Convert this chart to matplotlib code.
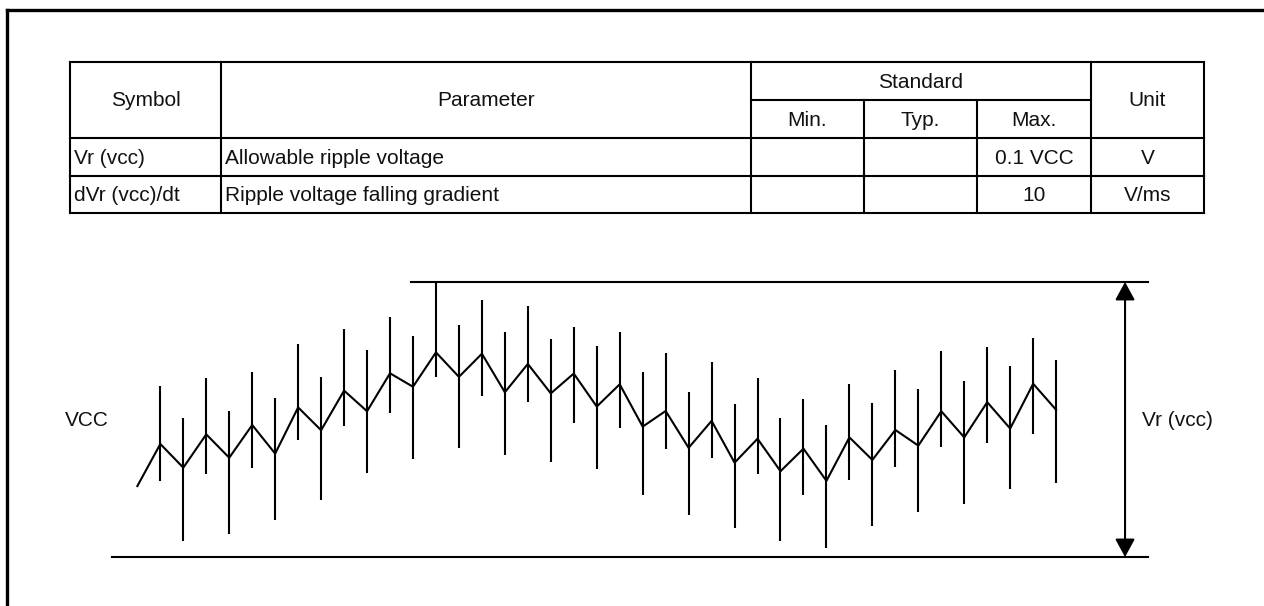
import numpy as np
import matplotlib.pyplot as plt

plt.rcParams['font.family'] = ['Liberation Sans', 'DejaVu Sans']

# table contents
header_symbol = 'Symbol'
header_param = 'Parameter'
header_standard = 'Standard'
header_sub = ['Min.', 'Typ.', 'Max.']
header_unit = 'Unit'
symbols = ['Vr (vcc)', 'dVr (vcc)/dt']
parameters = ['Allowable ripple voltage', 'Ripple voltage falling gradient']
min_vals = ['', '']
typ_vals = ['', '']
max_vals = ['0.1 VCC', '10']
units = ['V', 'V/ms']

# ripple waveform (sample index, level in % of the allowed band)
wave_level = [25.8, 41.1, 32.5, 44.6, 36.1, 48.0, 37.6, 54.4, 46.1, 60.5,
              53.0, 66.8, 61.9, 74.4, 65.5, 73.9, 59.9, 70.2, 59.5, 66.7,
              54.7, 62.8, 47.4, 53.1, 39.7, 49.5, 34.3, 43.0, 31.2, 39.4,
              27.7, 43.5, 35.3, 46.2, 40.5, 53.0, 43.5, 56.3, 46.7, 63.0,
              53.5]
spike_top = [62.3, 50.7, 65.0, 53.1, 67.4, 57.9, 77.3, 65.5, 82.8, 75.3,
             87.2, 80.4, 100.0, 84.3, 93.6, 81.8, 91.2, 79.3, 83.6, 76.8,
             81.8, 67.4, 74.3, 59.9, 70.8, 55.5, 65.0, 50.7, 57.5, 48.1,
             62.9, 56.0, 68.0, 61.1, 74.9, 64.0, 76.4, 69.3, 79.7, 71.7]
spike_bottom = [27.6, 5.8, 30.1, 8.3, 32.5, 13.3, 42.4, 20.6, 47.7, 30.5,
                52.3, 35.5, 65.3, 39.5, 58.7, 37.1, 56.3, 34.4, 48.7, 32.0,
                46.8, 22.5, 39.4, 15.2, 35.9, 10.7, 30.1, 5.8, 22.5, 3.4,
                28.0, 11.3, 32.9, 16.3, 39.9, 19.2, 41.3, 24.6, 44.8, 27.0]
band_low = 0.0
band_high = 100.0

W, H = 1264, 606
fig = plt.figure(figsize=(W / 100, H / 100), dpi=100)

# ---- page frame and table, drawn in pixel space ----
ax = fig.add_axes([0, 0, 1, 1])
ax.set_xlim(0, W)
ax.set_ylim(H, 0)
ax.axis('off')

ax.plot([6.5, W], [9.5, 9.5], color='black', lw=2.4, solid_capstyle='projecting')
ax.plot([6.5, 6.5], [9.5, H], color='black', lw=2.4, solid_capstyle='projecting')

cols = [70, 221, 751, 864, 977, 1091, 1204]
rows = [62, 100, 138, 176, 213]
lw_t = 1.5
fs = 15

for y in [rows[0], rows[2], rows[3], rows[4]]:
    ax.plot([cols[0], cols[-1]], [y, y], color='black', lw=lw_t)
ax.plot([cols[2], cols[5]], [rows[1], rows[1]], color='black', lw=lw_t)
for x in [cols[0], cols[1], cols[2], cols[5], cols[6]]:
    ax.plot([x, x], [rows[0], rows[4]], color='black', lw=lw_t)
for x in [cols[3], cols[4]]:
    ax.plot([x, x], [rows[1], rows[4]], color='black', lw=lw_t)

def cell(x0, x1, y0, y1, s, ha='center'):
    x = (x0 + x1) / 2 if ha == 'center' else x0 + 4
    ax.text(x, (y0 + y1) / 2 + 1, s, ha=ha, va='center', fontsize=fs,
            color='#111111')

cell(cols[0], cols[1], rows[0], rows[2], header_symbol)
cell(cols[1], cols[2], rows[0], rows[2], header_param)
cell(cols[2], cols[5], rows[0], rows[1], header_standard)
for i, s in enumerate(header_sub):
    cell(cols[2 + i], cols[3 + i], rows[1], rows[2], s)
cell(cols[5], cols[6], rows[0], rows[2], header_unit)

for r in range(len(symbols)):
    y0, y1 = rows[2 + r], rows[3 + r]
    cell(cols[0], cols[1], y0, y1, symbols[r], ha='left')
    cell(cols[1], cols[2], y0, y1, parameters[r], ha='left')
    cell(cols[2], cols[3], y0, y1, min_vals[r])
    cell(cols[3], cols[4], y0, y1, typ_vals[r])
    cell(cols[4], cols[5], y0, y1, max_vals[r])
    cell(cols[5], cols[6], y0, y1, units[r])

# ---- ripple diagram, drawn in data space ----
ax2 = fig.add_axes([0, 0, 1, 1])
ax2.set_xlim(-5.98, 49.05)
ax2.set_ylim(-17.8, 202.5)
ax2.axis('off')

idx = np.arange(len(wave_level))
ax2.plot(idx, wave_level, color='black', lw=1.5)
ax2.vlines(idx[1:], spike_bottom, spike_top, color='black', lw=1.5)

ax2.plot([-1.1, 44.0], [band_low, band_low], color='black', lw=1.5)
ax2.plot([11.9, 44.0], [band_high, band_high], color='black', lw=1.5)
ax2.annotate('', xy=(43.0, band_high), xytext=(43.0, band_low),
             arrowprops=dict(arrowstyle='<|-|>,head_length=0.55,head_width=0.3',
                             mutation_scale=20, color='black', lw=1.5,
                             shrinkA=0, shrinkB=0))

ax2.text(-2.2, 49.5, 'VCC', ha='center', va='center', fontsize=fs,
         color='#111111')
ax2.text(45.3, 49.5, 'Vr (vcc)', ha='center', va='center', fontsize=fs,
         color='#111111')

fig.savefig('out.png', dpi=100)
